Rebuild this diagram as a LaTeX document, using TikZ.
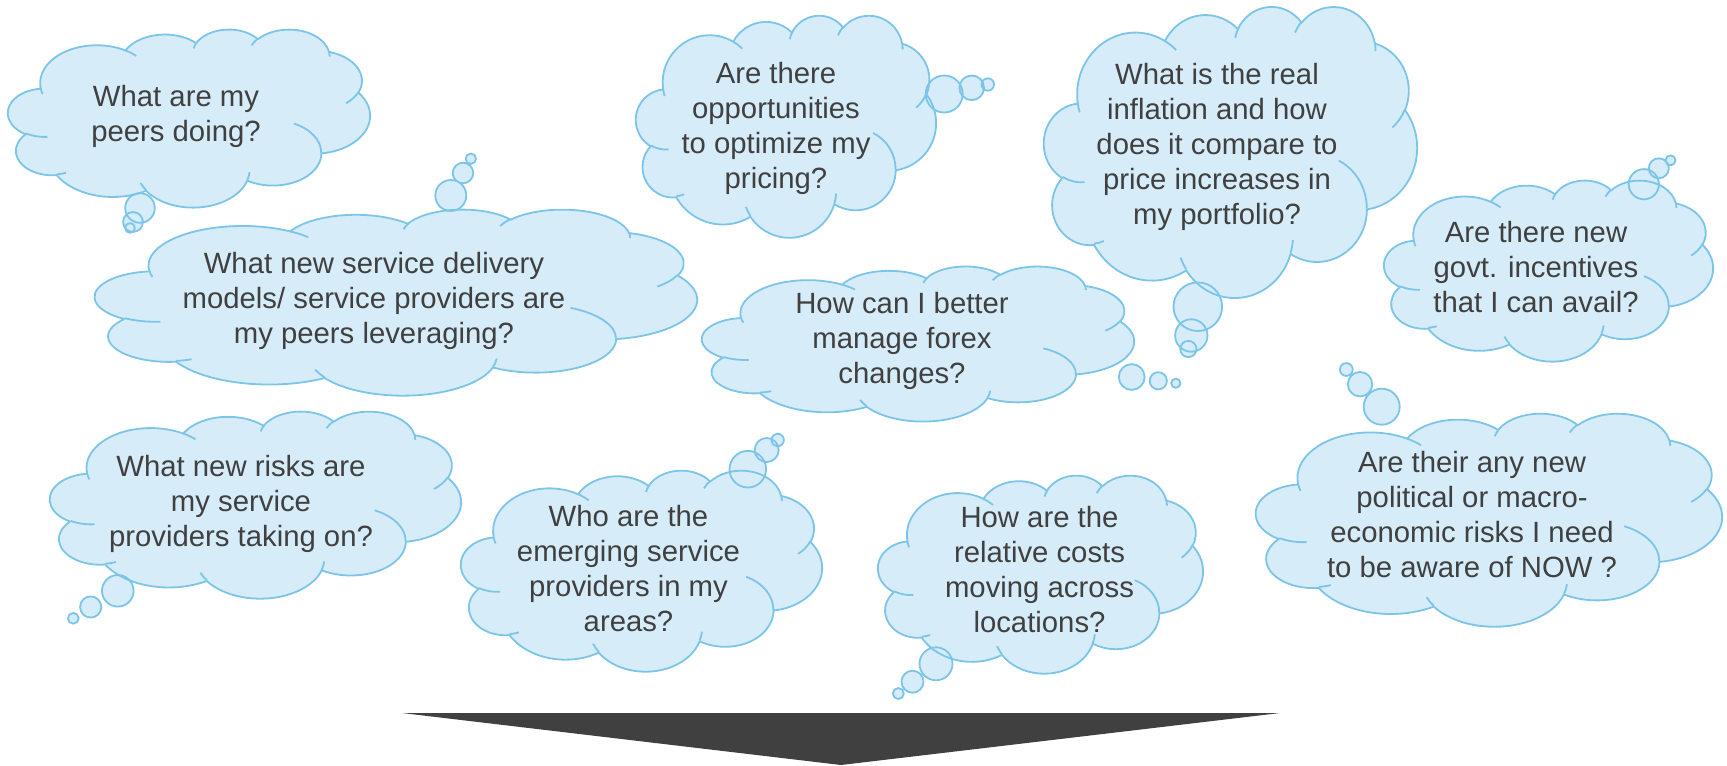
\documentclass[tikz,border=0pt]{standalone}
\usepackage{fontspec}
\setmainfont{Liberation Sans}
\definecolor{cfill}{RGB}{214,236,248}
\definecolor{cline}{RGB}{124,197,232}
\definecolor{ctext}{RGB}{64,64,64}
\definecolor{carrow}{RGB}{64,64,64}

% OOXML arcTo (visual angles) -> TikZ arc (parametric angles)
\newcommand{\ooarc}[5]{%
  \pgfmathsetmacro\ooA{atan2(#2*sin(#4),#3*cos(#4))}%
  \pgfmathsetmacro\ooS{\ooA+360*round((#4-\ooA)/360)}%
  \pgfmathsetmacro\ooE{#4+#5}%
  \pgfmathsetmacro\ooB{atan2(#2*sin(\ooE),#3*cos(\ooE))}%
  \pgfmathsetmacro\ooT{\ooB+360*round((\ooE-\ooB)/360)}%
  \expandafter\xdef\csname ooarc#1\endcsname{arc[start angle=\ooS, end angle=\ooT, x radius=#2, y radius=#3]}%
}
\ooarc{A}{67.53}{91.90}{-190.4875}{123.7805}
\ooarc{B}{53.33}{72.67}{-144.1024}{89.9452}
\ooarc{C}{43.65}{59.45}{-145.8079}{99.7230}
\ooarc{D}{48.57}{65.95}{-130.9861}{117.2417}
\ooarc{E}{53.33}{72.73}{-78.7089}{109.0269}
\ooarc{F}{67.75}{92.20}{-46.2673}{130.2690}
\ooarc{G}{57.85}{78.67}{0.6250}{114.0333}
\ooarc{H}{67.52}{92.15}{22.4516}{115.1726}
\ooarc{I}{77.20}{105.43}{66.2426}{75.7110}
\ooarc{J}{43.60}{59.18}{-274.9421}{146.7356}
\ooarc{K}{43.45}{59.45}{-246.8285}{152.5189}
\ooarc{a}{43.45}{59.45}{86.7420}{26.4295}
\ooarc{b}{43.60}{59.18}{73.6105}{11.4475}
\ooarc{c}{67.52}{92.15}{137.6242}{14.0811}
\ooarc{d}{67.52}{92.15}{6.4533}{15.9984}
\ooarc{e}{57.85}{78.67}{-70.2924}{70.9174}
\ooarc{f}{53.33}{72.73}{30.3180}{27.7515}
\ooarc{g}{48.57}{65.95}{-13.7443}{14.8589}
\ooarc{h}{48.57}{65.95}{-149.1815}{18.1954}
\ooarc{i}{43.65}{59.45}{-163.4943}{19.0141}
\ooarc{j}{67.53}{91.90}{-66.7070}{12.3194}
\ooarc{k}{67.53}{91.90}{157.6544}{11.8582}

\edef\cloudmain{(39.00,143.70) \ooarcA\space\ooarcB\space\ooarcC\space\ooarcD\space\ooarcE\space\ooarcF\space\ooarcG\space\ooarcH\space\ooarcI\space\ooarcJ\space\ooarcK\space -- cycle}
\edef\cloudfolds{(46.93,261.77) \ooarca\space (69.28,348.99) \ooarcb\space (164.78,390.90) \ooarcc\space (288.27,347.51) \ooarcd\space (341.29,229.54) \ooarce\space (417.98,153.54) \ooarcf\space (383.24,54.26) \ooarcg\space (290.78,39.52) \ooarch\space (221.41,47.20) \ooarci\space (140.00,51.92) \ooarcj\space (41.27,157.89) \ooarck}

% x0 y0 w h (px)
\newcommand{\cloudfill}[4]{%
  \pgfmathsetmacro\cwx{#3*0.5/432}%
  \pgfmathsetmacro\chy{#4*0.5/432}%
  \begin{scope}[shift={(#1,#2)}, x=\cwx pt, y=-\chy pt]
    \fill[cfill] \cloudmain;
  \end{scope}}
\newcommand{\cloudline}[4]{%
  \pgfmathsetmacro\cwx{#3*0.5/432}%
  \pgfmathsetmacro\chy{#4*0.5/432}%
  \begin{scope}[shift={(#1,#2)}, x=\cwx pt, y=-\chy pt]
    \draw[cloudstroke] \cloudmain;
    \draw[cloudstroke] \cloudfolds;
  \end{scope}}

\tikzset{
  cloudstroke/.style={draw=cline, line width=0.9pt, line join=round},
  qtext/.style={text=ctext, align=center, inner sep=0pt, font=\fontsize{14.65}{17.5}\selectfont},
}

\begin{document}
\begin{tikzpicture}[x=0.5pt, y=-0.5pt]
\useasboundingbox (0,0) rectangle (1727,765);

% cloud 1
\cloudfill{8}{29}{362}{178}
\fill[cfill] (140,208) circle[radius=14.8] (133,222) circle[radius=9.9] (130,228) circle[radius=4.9];
\cloudline{8}{29}{362}{178}
\draw[cloudstroke] (140,208) circle[radius=14.8] (133,222) circle[radius=9.9] (130,228) circle[radius=4.9];
\node[qtext] (q1) at (176,116) {What are my\\peers doing?};

% cloud 2
\cloudfill{95}{209}{602}{186}
\fill[cfill] (450.8,195.5) circle[radius=15.5] (463,173) circle[radius=10.3] (470.8,158.7) circle[radius=5.2];
\cloudline{95}{209}{602}{186}
\draw[cloudstroke] (450.8,195.5) circle[radius=15.5] (463,173) circle[radius=10.3] (470.8,158.7) circle[radius=5.2];
\node[qtext] (q2) at (374,301) {What new service delivery\\models/ service providers are\\my peers leveraging?};

% cloud 3
\cloudfill{636}{15}{300}{222}
\fill[cfill] (944.2,94) circle[radius=18.5] (971.7,87.8) circle[radius=12.3] (987.8,84.5) circle[radius=6.2];
\cloudline{636}{15}{300}{222}
\draw[cloudstroke] (944.2,94) circle[radius=18.5] (971.7,87.8) circle[radius=12.3] (987.8,84.5) circle[radius=6.2];
\node[qtext] (q3) at (776,128.3) {Are there\\opportunities\\to optimize my\\pricing?};

% cloud 4
\cloudfill{1044}{6}{373}{291}
\fill[cfill] (1197.8,306.7) circle[radius=24.3] (1191.3,335.5) circle[radius=16.2] (1188.3,349) circle[radius=8.1];
\cloudline{1044}{6}{373}{291}
\draw[cloudstroke] (1197.8,306.7) circle[radius=24.3] (1191.3,335.5) circle[radius=16.2] (1188.3,349) circle[radius=8.1];
\node[qtext] (q4) at (1217,146.7) {What is the real\\inflation and how\\does it compare to\\price increases in\\my portfolio?};

% cloud 5
\cloudfill{702}{266}{432}{155}
\fill[cfill] (1131.7,377) circle[radius=12.9] (1158.3,380.8) circle[radius=8.6] (1175.8,383.2) circle[radius=4.6];
\cloudline{702}{266}{432}{155}
\draw[cloudstroke] (1131.7,377) circle[radius=12.9] (1158.3,380.8) circle[radius=8.6] (1175.8,383.2) circle[radius=4.6];
\node[qtext] (q5) at (902,341.2) {How can I better\\manage forex\\changes?};

% cloud 6
\cloudfill{1384}{180}{329}{181}
\fill[cfill] (1643.8,184.2) circle[radius=15.1] (1658.8,168.3) circle[radius=10] (1670.5,160.3) circle[radius=5];
\cloudline{1384}{180}{329}{181}
\draw[cloudstroke] (1643.8,184.2) circle[radius=15.1] (1658.8,168.3) circle[radius=10] (1670.5,160.3) circle[radius=5];
\node[qtext] (q6) at (1536,267.5) {Are there new\\govt. incentives\\that I can avail?};

% cloud 7
\cloudfill{50}{411}{411}{187}
\fill[cfill] (117.8,590.8) circle[radius=15.8] (90.7,607) circle[radius=10.6] (73.3,618.3) circle[radius=5.4];
\cloudline{50}{411}{411}{187}
\draw[cloudstroke] (117.8,590.8) circle[radius=15.8] (90.7,607) circle[radius=10.6] (73.3,618.3) circle[radius=5.4];
\node[qtext] (q7) at (241,504.2) {What new risks are\\my service\\providers taking on?};

% cloud 8
\cloudfill{461}{470}{361}{201}
\fill[cfill] (747.8,469.2) circle[radius=18.3] (766.7,450) circle[radius=12] (777.7,440) circle[radius=6.2];
\cloudline{461}{470}{361}{201}
\draw[cloudstroke] (747.8,469.2) circle[radius=18.3] (766.7,450) circle[radius=12] (777.7,440) circle[radius=6.2];
\node[qtext] (q8) at (628.5,568.3) {Who are the\\emerging service\\providers in my\\areas?};

% cloud 9
\cloudfill{878}{475}{325}{198}
\fill[cfill] (936,663.8) circle[radius=16.5] (912.5,681.7) circle[radius=11] (898.3,693.5) circle[radius=5.5];
\cloudline{878}{475}{325}{198}
\draw[cloudstroke] (936,663.8) circle[radius=16.5] (912.5,681.7) circle[radius=11] (898.3,693.5) circle[radius=5.5];
\node[qtext] (q9) at (1039.5,570) {How are the\\relative costs\\moving across\\locations?};

% cloud 10
\cloudfill{1256}{413}{466}{213}
\fill[cfill] (1381.7,406.7) circle[radius=18] (1360,384.2) circle[radius=12.2] (1346.3,369.5) circle[radius=6.4];
\cloudline{1256}{413}{466}{213}
\draw[cloudstroke] (1381.7,406.7) circle[radius=18] (1360,384.2) circle[radius=12.2] (1346.3,369.5) circle[radius=6.4];
\node[qtext] (q10) at (1472,514.7) {Are their any new\\political or macro-\\economic risks I need\\to be aware of NOW ?};

% arrow
\coordinate (al) at (402,713);
\coordinate (ar) at (1280,713);
\coordinate (ap) at (841,765);
\fill[carrow] (al) -- (ar) -- (ap) -- cycle;
\end{tikzpicture}
\end{document}
